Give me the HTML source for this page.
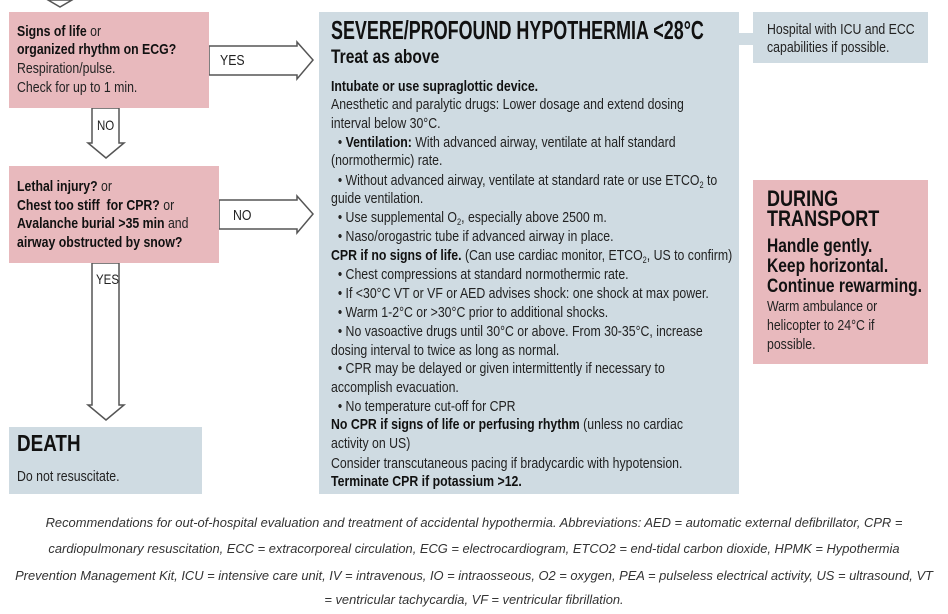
<!DOCTYPE html>
<html><head><meta charset="utf-8"><style>
body{margin:0;width:948px;height:614px;background:#fff;position:relative;overflow:hidden;font-family:"Liberation Sans",sans-serif;color:#1a1a1a}
.b{position:absolute}
.pk{background:#e8b9bd}
.bl{background:#cfdbe2}
.l{position:absolute;white-space:nowrap;transform-origin:0 50%;transform:scaleX(.82);line-height:1}
.s{font-size:15px;color:#222}
.bo{font-weight:bold;color:#111}
.cap{position:absolute;left:0;width:948px;text-align:center;font-style:italic;font-size:12.9px;color:#333;white-space:nowrap;line-height:1}
sub{font-size:9px;vertical-align:-3px;line-height:0}
</style></head><body>
<svg class="b" style="left:0;top:0" width="948" height="614">
<g fill="#fff" stroke="#555" stroke-width="1.5">
<polygon points="48,0 60,7 72,0"/>
<polygon points="209,46 297,46 297,42 313,60 297,79 297,75 209,75"/>
<polygon points="219,200 297,200 297,196 313,214 297,233 297,229 219,229"/>
<polygon points="92,108 119,108 119,143 124,143 106,158 88,143 92,143"/>
<polygon points="92,263 119,263 119,405 124,405 106,420 88,405 92,405"/>
</g></svg>
<div class="b pk" style="left:9px;top:12px;width:200px;height:96px"></div>
<div class="b pk" style="left:9px;top:166px;width:210px;height:97px"></div>
<div class="b bl" style="left:9px;top:427px;width:193px;height:67px"></div>
<div class="b bl" style="left:319px;top:12px;width:420px;height:482px"></div>
<div class="b bl" style="left:739px;top:33px;width:16px;height:12px"></div>
<div class="b bl" style="left:753px;top:12px;width:175px;height:51px"></div>
<div class="b pk" style="left:753px;top:180px;width:175px;height:184px"></div>

<div class="l s" style="left:17px;top:24px"><b class="bo">Signs of life</b> or</div>
<div class="l s bo" style="left:17px;top:42px">organized rhythm on ECG?</div>
<div class="l s" style="left:17px;top:61px">Respiration/pulse.</div>
<div class="l s" style="left:17px;top:80px">Check for up to 1 min.</div>
<div class="l s" style="left:220px;top:53px">YES</div>
<div class="l s" style="left:97px;top:118px;font-size:14px">NO</div>
<div class="l s" style="left:17px;top:179px"><b class="bo">Lethal injury?</b> or</div>
<div class="l s" style="left:17px;top:198px"><b class="bo">Chest too stiff &nbsp;for CPR?</b> or</div>
<div class="l s" style="left:17px;top:216px"><b class="bo">Avalanche burial &gt;35 min</b> and</div>
<div class="l s bo" style="left:17px;top:235px">airway obstructed by snow?</div>
<div class="l s" style="left:233px;top:208px">NO</div>
<div class="l s" style="left:96px;top:272px;font-size:14px">YES</div>
<div class="l bo" style="left:17px;top:432px;font-size:23px">DEATH</div>
<div class="l s" style="left:17px;top:469px">Do not resuscitate.</div>

<div class="l bo" style="left:331px;top:17px;font-size:26px;transform:scaleX(.69)">SEVERE/PROFOUND HYPOTHERMIA &lt;28°C</div>
<div class="l bo" style="left:331px;top:48px;font-size:19px">Treat as above</div>
<div class="l s bo" style="left:331px;top:79px">Intubate or use supraglottic device.</div>
<div class="l s" style="left:331px;top:97px">Anesthetic and paralytic drugs: Lower dosage and extend dosing</div>
<div class="l s" style="left:331px;top:116px">interval below 30°C.</div>
<div class="l s" style="left:331px;top:135px">&nbsp;&nbsp;• <b class="bo">Ventilation:</b> With advanced airway, ventilate at half standard</div>
<div class="l s" style="left:331px;top:153px">(normothermic) rate.</div>
<div class="l s" style="left:331px;top:173px">&nbsp;&nbsp;• Without advanced airway, ventilate at standard rate or use ETCO<sub>2</sub> to</div>
<div class="l s" style="left:331px;top:191px">guide ventilation.</div>
<div class="l s" style="left:331px;top:210px">&nbsp;&nbsp;• Use supplemental O<sub>2</sub>, especially above 2500 m.</div>
<div class="l s" style="left:331px;top:229px">&nbsp;&nbsp;• Naso/orogastric tube if advanced airway in place.</div>
<div class="l s" style="left:331px;top:248px"><b class="bo">CPR if no signs of life.</b> (Can use cardiac monitor, ETCO<sub>2</sub>, US to confirm)</div>
<div class="l s" style="left:331px;top:267px">&nbsp;&nbsp;• Chest compressions at standard normothermic rate.</div>
<div class="l s" style="left:331px;top:286px">&nbsp;&nbsp;• If &lt;30°C VT or VF or AED advises shock: one shock at max power.</div>
<div class="l s" style="left:331px;top:305px">&nbsp;&nbsp;• Warm 1-2°C or &gt;30°C prior to additional shocks.</div>
<div class="l s" style="left:331px;top:324px">&nbsp;&nbsp;• No vasoactive drugs until 30°C or above. From 30-35°C, increase</div>
<div class="l s" style="left:331px;top:343px">dosing interval to twice as long as normal.</div>
<div class="l s" style="left:331px;top:361px">&nbsp;&nbsp;• CPR may be delayed or given intermittently if necessary to</div>
<div class="l s" style="left:331px;top:380px">accomplish evacuation.</div>
<div class="l s" style="left:331px;top:399px">&nbsp;&nbsp;• No temperature cut-off for CPR</div>
<div class="l s" style="left:331px;top:417px"><b class="bo">No CPR if signs of life or perfusing rhythm</b> (unless no cardiac</div>
<div class="l s" style="left:331px;top:436px">activity on US)</div>
<div class="l s" style="left:331px;top:456px">Consider transcutaneous pacing if bradycardic with hypotension.</div>
<div class="l s bo" style="left:331px;top:474px">Terminate CPR if potassium &gt;12.</div>

<div class="l s" style="left:767px;top:22px">Hospital with ICU and ECC</div>
<div class="l s" style="left:767px;top:40px">capabilities if possible.</div>
<div class="l bo" style="left:767px;top:188px;font-size:22px">DURING</div>
<div class="l bo" style="left:767px;top:208px;font-size:22px">TRANSPORT</div>
<div class="l bo" style="left:767px;top:237px;font-size:19px">Handle gently.</div>
<div class="l bo" style="left:767px;top:257px;font-size:19px">Keep horizontal.</div>
<div class="l bo" style="left:767px;top:277px;font-size:19px">Continue rewarming.</div>
<div class="l s" style="left:767px;top:299px">Warm ambulance or</div>
<div class="l s" style="left:767px;top:318px">helicopter to 24°C if</div>
<div class="l s" style="left:767px;top:337px">possible.</div>

<div class="cap" style="top:517px">Recommendations for out-of-hospital evaluation and treatment of accidental hypothermia. Abbreviations: AED = automatic external defibrillator, CPR =</div>
<div class="cap" style="top:543px">cardiopulmonary resuscitation, ECC = extracorporeal circulation, ECG = electrocardiogram, ETCO2 = end-tidal carbon dioxide, HPMK = Hypothermia</div>
<div class="cap" style="top:570px">Prevention Management Kit, ICU = intensive care unit, IV = intravenous, IO = intraosseous, O2 = oxygen, PEA = pulseless electrical activity, US = ultrasound, VT</div>
<div class="cap" style="top:594px">= ventricular tachycardia, VF = ventricular fibrillation.</div>
</body></html>
